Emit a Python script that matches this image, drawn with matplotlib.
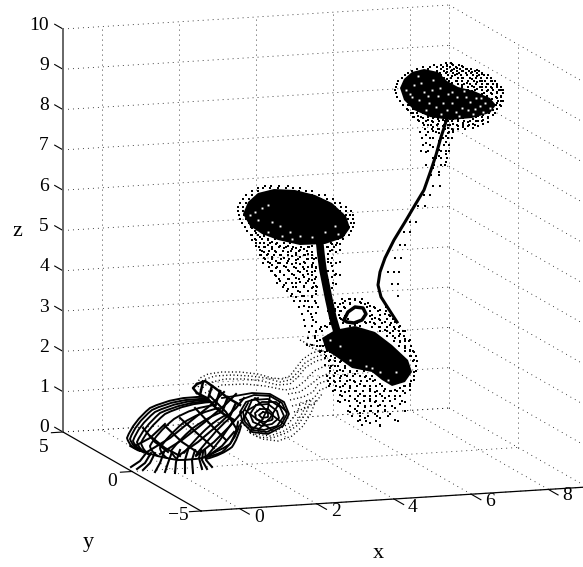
import matplotlib
matplotlib.use("Agg")
import matplotlib.pyplot as plt
from matplotlib.path import Path
from matplotlib.patches import PathPatch

plt.rcParams["font.family"] = ["Liberation Serif", "DejaVu Serif"]
plt.rcParams["font.size"] = 14

x_ticks = [0, 2, 4, 6, 8]
y_ticks = [-5, 0, 5]
z_ticks = [0, 1, 2, 3, 4, 5, 6, 7, 8, 9, 10]
x_lim = [-1, 9]
y_lim = [-5, 5]
z_lim = [0, 10]

# the view, picture position of (x=-1, y=-5, z=0) and the step per data unit
corner = (201.0, 511.0)
x_step = (38.6, -2.4)
y_step = (-13.8, -7.9)
z_step = (0.0, -40.3)

# picture positions for the trajectories
cap1_core = [(400, 88), (404, 79), (412, 72), (424, 69), (438, 72), (447, 81), (458, 87), (474, 91),
             (490, 98), (496, 105), (490, 113), (472, 118), (450, 120), (430, 117), (414, 110), (404, 100)]
cap1_specks = [(414, 85), (424, 92), (433, 80), (410, 94), (438, 96), (452, 103), (470, 102), (462, 108),
               (480, 106), (429, 103), (418, 76), (447, 110), (406, 90), (421, 83), (440, 88), (448, 94),
               (457, 97), (466, 97), (475, 109), (485, 103), (436, 107), (428, 96), (443, 103), (456, 112),
               (468, 110), (419, 100), (412, 97), (476, 98), (490, 108), (432, 90), (426, 110), (483, 112),
               (459, 116), (441, 114), (473, 114), (452, 92), (464, 91), (481, 98)]
cap1_rows = [
    (63, [446, 451]), (65, [434, 441, 447, 453, 459]), (67, [423, 430, 437, 443, 450, 456, 463]),
    (69, [417, 428, 441, 447, 454, 460, 466, 471]), (71, [412, 437, 444, 451, 457, 463, 469, 475, 479]),
    (73, [408, 440, 446, 453, 459, 466, 471, 477, 482]), (75, [405, 441, 448, 455, 461, 467, 473, 479, 484, 488]),
    (78, [402, 444, 451, 458, 463, 470, 476, 481, 487, 491]), (81, [398, 449, 456, 462, 468, 474, 480, 485, 491, 495]),
    (84, [397, 451, 458, 464, 470, 476, 482, 488, 493, 497]), (87, [396, 462, 468, 474, 480, 486, 491, 497, 501]),
    (90, [395, 468, 475, 482, 488, 493, 499, 503]), (93, [396, 484, 491, 497, 503]), (97, [397, 496, 501]),
    (101, [400, 498, 503]), (105, [403, 409, 496, 500]), (109, [407, 413, 418, 491, 497]),
    (113, [411, 417, 424, 483, 489, 495]), (117, [414, 421, 428, 434, 441, 470, 476, 482, 488]),
    (121, [419, 426, 432, 439, 445, 452, 458, 464, 470, 476, 482]),
    (125, [424, 431, 437, 444, 450, 457, 463, 469, 475]), (129, [425, 432, 439, 445, 452, 458, 465]),
    (132, [420, 428, 436, 443, 449, 453]), (138, [422, 430, 443, 448, 452]), (145, [423, 430, 444, 449]),
    (151, [421, 428, 441, 446, 449]), (158, [436, 441, 447]), (165, [426, 434, 441, 445]),
    (175, [431, 439]), (186, [433, 440]), (195, [424, 430]), (206, [418, 425]), (222, [410, 416]),
    (232, [404, 410]), (245, [400, 405]), (258, [395, 401]), (272, [388, 394, 399]), (284, [392, 398]), (296, [398])]
cap1_cols = [
    (447, [66, 72, 79, 87]), (452, [64, 70, 76, 83, 90]), (457, [68, 74, 81, 88]), (462, [66, 71, 78, 85, 92]),
    (467, [69, 75, 83, 90]), (472, [72, 79, 86, 91]), (477, [70, 76, 82, 89, 95]), (482, [74, 81, 87, 94]),
    (487, [78, 84, 91, 96]), (492, [81, 88, 94, 99]), (497, [85, 92, 98, 103]), (501, [90, 96, 101, 106]),
    (408, [105, 110]), (413, [108, 113, 117]), (418, [111, 116, 120]), (423, [113, 118, 123]),
    (428, [115, 120, 125]), (433, [118, 122, 127, 131]), (438, [119, 124, 129]), (443, [120, 126, 130]),
    (448, [121, 125, 128, 133]), (453, [119, 124, 130]), (458, [120, 126, 129]), (463, [118, 123, 127]),
    (468, [117, 122, 126]), (473, [119, 124, 128]), (478, [116, 121, 126]), (483, [115, 120, 124]),
    (488, [112, 118, 122]), (493, [110, 115]), (426, [135, 143, 152]), (433, [138, 147, 158, 168]),
    (446, [136, 142, 154, 162]), (439, [133, 141, 150, 156, 172])]
stem1 = [(447, 118), (444, 128), (441, 137), (436, 155), (431, 170), (424, 190), (415, 205),
         (405, 222), (394, 240), (385, 258), (380, 272), (378, 285), (381, 297), (388, 308), (397, 322)]

cap2_core = [(243, 214), (248, 202), (258, 193), (274, 189), (295, 190), (315, 195), (332, 203), (346, 216),
             (350, 228), (343, 238), (325, 244), (300, 245), (278, 240), (262, 234), (250, 226)]
cap2_specks = [(268, 205), (290, 232), (300, 236), (280, 226), (325, 232), (258, 220), (262, 208), (255, 212),
               (272, 222), (335, 226), (292, 239), (312, 237), (250, 215), (268, 232), (282, 236), (338, 234)]
cap2_rows = [
    (186, [265, 271, 279, 288]), (188, [258, 263, 270, 278, 286, 293, 300]), (191, [252, 258, 299, 306, 312]),
    (195, [246, 252, 312, 319, 325]), (199, [243, 249, 321, 327, 333]), (203, [240, 246, 329, 335, 340]),
    (207, [238, 243, 335, 341, 346]), (211, [238, 243, 340, 346, 351]), (215, [239, 244, 346, 350, 353]),
    (219, [240, 246, 348, 353]), (223, [242, 249, 254, 351, 354]), (227, [245, 251, 258, 349, 353]),
    (231, [247, 255, 261, 267, 346, 351]), (235, [251, 258, 264, 271, 277, 344, 349]),
    (239, [255, 262, 268, 275, 281, 287, 293, 338, 343]), (243, [256, 264, 270, 277, 284, 290, 297, 305, 311, 331, 337]),
    (247, [259, 265, 272, 279, 286, 293, 301, 309, 327, 334]), (251, [262, 269, 275, 283, 291, 299, 307, 330]),
    (255, [261, 267, 274, 281, 288, 296, 305, 312]), (259, [265, 272, 281, 289, 298, 307, 314, 328]),
    (263, [263, 270, 278, 287, 296, 305, 313, 331]), (267, [269, 277, 286, 294, 303, 312, 316]),
    (271, [271, 280, 289, 298, 307, 315, 333]), (275, [275, 284, 294, 303, 312, 335]),
    (279, [279, 289, 299, 309, 315]), (283, [277, 286, 296, 306, 314, 333]),
    (287, [283, 293, 304, 313, 317]), (291, [287, 298, 308, 316]), (296, [291, 302, 312]),
    (301, [294, 305, 315]), (307, [299, 309, 318]), (314, [302, 311]), (320, [304, 313]),
    (326, [305, 312]), (332, [309, 316]), (338, [308, 315]), (345, [307, 312])]
cap2_cols = [
    (252, [228, 235, 240]), (256, [233, 240, 246]), (260, [237, 243, 250, 255]), (264, [236, 247, 252, 258]),
    (268, [240, 245, 254, 262]), (272, [242, 249, 257, 265, 271]), (276, [244, 252, 261, 268, 276]),
    (280, [246, 255, 263, 272, 281]), (284, [248, 258, 266, 275, 285]), (288, [246, 252, 261, 270, 279, 289]),
    (292, [249, 256, 264, 274, 283, 294]), (296, [248, 253, 260, 268, 278, 287, 297]),
    (300, [250, 257, 264, 272, 282, 292, 301]), (304, [249, 255, 262, 269, 277, 286, 296, 306]),
    (308, [247, 254, 259, 267, 274, 281, 291, 301, 311]), (312, [246, 252, 258, 265, 272, 280, 288, 297, 307, 317]),
    (316, [258, 268, 277, 286, 294, 303, 313, 322]), (328, [247, 254, 262, 271, 280]),
    (332, [244, 250, 258, 266, 277, 288]), (336, [245, 252, 263, 274, 284]), (340, [244, 250, 262, 275])]
stem2 = [(319, 236), (321, 255), (323, 270), (326, 285), (329, 300), (333, 318), (338, 335)]

blob_core = [(322, 338), (335, 330), (355, 326), (375, 332), (392, 345), (408, 360), (412, 372), (405, 382),
             (392, 386), (382, 380), (372, 372), (352, 368), (338, 358), (326, 350)]
blob_specks = [(366, 366), (372, 368), (380, 372), (350, 360), (396, 372), (388, 380), (340, 346), (330, 340)]
blob_rows = [
    (299, [342, 349, 355, 362]), (303, [335, 343, 350, 361, 368]), (307, [331, 338, 344, 367, 374, 386]),
    (311, [328, 335, 341, 370, 378, 386]), (315, [334, 339, 346, 372, 380, 389]),
    (319, [335, 341, 348, 372, 379, 387, 393]), (323, [330, 337, 343, 350, 357, 366, 374, 382, 391]),
    (327, [321, 327, 334, 372, 379, 387, 394, 399]), (331, [316, 322, 380, 387, 393, 399, 403]),
    (336, [315, 387, 393, 399, 404]), (341, [317, 394, 400, 405, 409]), (346, [317, 323, 399, 405, 411]),
    (351, [321, 327, 405, 410, 413]), (356, [326, 331, 411, 416]), (361, [329, 335, 341, 413, 417]),
    (366, [331, 338, 345, 416]), (371, [330, 337, 343, 350, 357, 364, 416]),
    (376, [327, 334, 341, 347, 353, 360, 366, 372, 414]), (381, [328, 334, 340, 347, 354, 361, 367, 373, 411]),
    (386, [329, 336, 343, 350, 357, 364, 370, 376, 382, 404, 410]),
    (391, [333, 341, 349, 356, 363, 370, 377, 384, 391, 397, 403]),
    (396, [342, 350, 358, 364, 370, 376, 382, 389, 395, 400]),
    (401, [338, 349, 357, 364, 370, 376, 383, 390, 402]), (406, [350, 358, 365, 371, 378, 385, 392]),
    (411, [348, 357, 364, 371, 378, 385, 405]), (416, [352, 360, 368, 377, 388]), (421, [358, 366, 376, 398]),
    (425, [362, 380])]
blob_cols = [
    (320, [329, 340, 346, 352]), (325, [326, 345, 352, 358, 365]), (330, [318, 324, 352, 360, 368, 378, 384]),
    (335, [309, 316, 322, 358, 366, 373, 382, 390]), (340, [304, 311, 318, 362, 370, 378, 387, 395, 402]),
    (345, [301, 308, 316, 321, 368, 375, 384, 392, 400]), (350, [299, 304, 326, 372, 380, 388, 396, 406, 412]),
    (355, [300, 325, 374, 382, 391, 399, 409]), (360, [302, 326, 376, 384, 394, 403, 413, 420]),
    (365, [304, 322, 377, 386, 396, 407, 418]), (370, [306, 316, 322, 379, 389, 399, 411, 423]),
    (375, [308, 318, 324, 380, 392, 402, 414]), (380, [310, 320, 327, 384, 394, 405, 418, 426]),
    (385, [314, 322, 330, 389, 398, 410]), (390, [316, 325, 333, 391, 401, 414]),
    (395, [322, 329, 338, 390, 399, 408, 420]), (400, [326, 334, 342, 388, 396, 404]),
    (405, [331, 339, 348, 386, 393, 402]), (410, [340, 350, 356, 384, 390]), (414, [352, 360, 372, 380])]
knot = [(344, 320), (348, 312), (355, 307), (363, 308), (366, 314), (362, 320), (354, 323), (347, 322), (344, 320)]

dotted_arcs = [
    [(197, 384), (200, 378), (208, 374), (222, 372), (240, 372), (258, 374), (272, 378), (282, 379),
     (290, 376), (296, 368), (303, 359), (312, 353), (322, 350)],
    [(198, 387), (203, 380), (215, 376), (232, 375), (250, 376), (266, 378), (280, 382), (290, 380),
     (298, 372), (305, 363), (315, 357), (326, 354)],
    [(200, 390), (208, 383), (225, 379), (245, 379), (262, 381), (278, 385), (290, 384), (298, 377),
     (306, 367), (316, 361), (328, 358)],
    [(205, 393), (222, 385), (245, 384), (265, 386), (285, 390), (296, 388), (306, 380), (314, 371),
     (325, 366), (335, 365)],
    [(288, 394), (300, 392), (310, 385), (320, 377), (332, 372)],
    [(290, 400), (303, 397), (313, 392), (318, 384), (328, 380)],
    [(292, 406), (304, 403), (314, 398), (320, 390), (330, 386)],
    [(294, 412), (306, 408), (316, 402), (322, 394)],
    [(250, 433), (262, 439), (278, 441), (292, 436), (303, 426), (311, 413), (316, 400)],
    [(247, 430), (258, 437), (272, 438), (286, 433), (298, 425), (306, 413), (311, 400)],
    [(244, 425), (255, 434), (270, 436), (284, 431), (296, 423), (303, 412), (307, 400)],
    [(240, 420), (250, 429), (262, 433), (276, 431), (288, 424), (297, 413), (301, 402)],
    [(306, 344), (314, 349), (322, 351), (330, 351)],
    [(300, 340), (308, 344), (318, 346), (326, 345)]]

hood_ribs = [
    [(205, 397), (175, 396), (150, 408), (133, 422), (127, 438), (130, 448), (140, 451)],
    [(207, 399), (177, 398), (152, 410), (135, 424), (130, 439), (133, 448), (143, 452)],
    [(208, 400), (180, 400), (155, 412), (138, 426), (133, 441), (136, 449), (147, 453)],
    [(210, 401), (184, 402), (160, 413), (143, 428), (137, 442), (139, 450), (148, 454)],
    [(212, 402), (187, 403), (165, 414), (147, 429), (141, 443), (143, 451), (150, 455)],
    [(216, 405), (193, 407), (174, 419), (156, 434), (150, 446), (151, 452), (158, 456)],
    [(219, 408), (200, 412), (183, 423), (167, 437), (160, 448), (161, 454), (167, 458)],
    [(222, 412), (208, 417), (193, 428), (178, 441), (171, 451), (172, 455), (177, 459)],
    [(226, 415), (214, 421), (203, 432), (190, 445), (184, 453)],
    [(230, 418), (220, 426), (212, 436), (201, 448), (196, 455)],
    [(234, 420), (227, 430), (220, 440), (212, 450), (207, 456)],
    [(130, 446), (150, 456), (178, 460), (205, 460), (222, 452), (235, 441), (239, 426)],
    [(206, 459), (222, 455), (232, 447), (238, 438), (241, 426)],
    [(204, 457), (218, 452), (230, 444), (236, 434), (238, 422)]]
tails = [
    [(131, 467), (140, 461), (147, 452)], [(137, 469), (145, 463), (151, 453)], [(143, 470), (150, 463), (155, 453)],
    [(155, 472), (160, 463), (164, 452)], [(165, 472), (168, 463), (172, 452)], [(175, 473), (176, 462), (180, 450)],
    [(185, 473), (185, 460), (188, 450)], [(193, 473), (192, 460), (195, 450)], [(202, 469), (199, 458), (201, 450)],
    [(212, 467), (206, 460), (205, 450)], [(207, 469), (202, 460), (203, 452)]]
lattice = [
    [(135, 446), (150, 438), (165, 424)], [(147, 452), (170, 438), (192, 420), (212, 404), (224, 392)],
    [(160, 454), (182, 440), (205, 422), (226, 404), (236, 394)], [(178, 456), (198, 442), (218, 425), (236, 408), (244, 398)],
    [(196, 456), (214, 442), (230, 426), (242, 412)], [(208, 456), (222, 446), (234, 432)],
    [(143, 428), (155, 442), (168, 452)], [(150, 436), (165, 448), (180, 456)], [(165, 426), (182, 442), (200, 454)],
    [(180, 418), (198, 434), (214, 448)], [(195, 408), (212, 426), (226, 440)],
    [(210, 396), (226, 412), (236, 428)]]
neck = [
    [(197, 384), (205, 381), (215, 388), (228, 398), (240, 405)], [(197, 393), (207, 398), (216, 408), (225, 415), (234, 420)],
    [(203, 382), (200, 395)], [(212, 386), (208, 399)], [(220, 391), (215, 406)], [(228, 397), (222, 412)],
    [(236, 403), (229, 418)], [(197, 384), (193, 388), (197, 393)]]
coil_loops = [
    [(222, 398), (235, 396), (252, 393), (270, 394), (284, 402), (289, 414), (283, 426), (268, 434),
     (252, 432), (243, 423), (240, 412), (246, 402), (258, 398)],
    [(240, 400), (254, 395), (270, 396), (282, 403), (287, 414), (281, 425), (267, 432), (253, 430),
     (245, 422), (243, 412), (248, 403)],
    [(252, 400), (268, 399), (280, 407), (284, 416), (277, 426), (264, 430), (251, 427), (245, 416), (252, 400)],
    [(256, 405), (268, 404), (277, 411), (279, 418), (272, 424), (262, 426), (253, 422), (250, 414), (256, 405)],
    [(260, 409), (268, 409), (273, 414), (272, 420), (264, 422), (256, 419), (255, 413), (260, 409)],
    [(263, 412), (268, 413), (268, 417), (262, 418), (259, 415), (263, 412)],
    [(240, 425), (248, 410), (262, 402), (276, 402), (287, 412)], [(250, 432), (262, 420), (268, 408), (270, 396)],
    [(245, 410), (258, 420), (272, 430)], [(255, 398), (268, 412), (284, 424)], [(280, 402), (270, 418), (258, 430)]]


def project(x, y, z):
    u = corner[0] + (x - x_lim[0]) * x_step[0] + (y - y_lim[0]) * y_step[0] + z * z_step[0]
    v = corner[1] + (x - x_lim[0]) * x_step[1] + (y - y_lim[0]) * y_step[1] + z * z_step[1]
    return u, v


def seg(ax, a, b, **kw):
    pa, pb = project(*a), project(*b)
    ax.plot([pa[0], pb[0]], [pa[1], pb[1]], **kw)


def curve(ax, pts, **kw):
    ax.plot([p[0] for p in pts], [p[1] for p in pts], **kw)


def smooth(ax, pts, **kw):
    # every other point acts as the control point of a quadratic piece
    n = len(pts) if len(pts) % 2 == 1 else len(pts) - 1
    codes = [Path.MOVETO] + [Path.CURVE3] * (n - 1)
    ax.add_patch(PathPatch(Path(pts[:n], codes), fc="none", ec="k", capstyle="round", **kw))


def rows_xy(rows, cols):
    xs, ys = [], []
    for y, vals in rows:
        for x in vals:
            xs.append(x)
            ys.append(y)
    for x, vals in cols:
        for y in vals:
            xs.append(x)
            ys.append(y)
    return xs, ys


fig = plt.figure(figsize=(5.83, 5.67), dpi=100)
ax = fig.add_axes([0, 0, 1, 1])
ax.set_xlim(0, 583)
ax.set_ylim(567, 0)
ax.axis("off")

grid = dict(color="k", lw=0.6, ls=(0, (1, 5)))
x0, x1 = x_lim
y0, y1 = y_lim
z0, z1 = z_lim
for z in z_ticks:
    seg(ax, (x0, y1, z), (x1, y1, z), **grid)
    seg(ax, (x1, y1, z), (x1, y0, z), **grid)
for x in x_ticks:
    seg(ax, (x, y0, z0), (x, y1, z0), **grid)
    seg(ax, (x, y1, z0), (x, y1, z1), **grid)
for y in y_ticks:
    seg(ax, (x0, y, z0), (x1, y, z0), **grid)
    seg(ax, (x1, y, z0), (x1, y, z1), **grid)

# axes box
seg(ax, (x0, y1, z0), (x0, y1, z1), color="#666666", lw=1.4, zorder=3)
seg(ax, (x0, y0, z0), (x0, y1, z0), color="k", lw=0.9, zorder=3)
seg(ax, (x0, y0, z0), (x1, y0, z0), color="k", lw=0.9, zorder=3)
for x in x_ticks:
    seg(ax, (x, y0, z0), (x, y0 - 0.7, z0), color="k", lw=0.8)
for y in y_ticks:
    seg(ax, (x0, y, z0), (x0 - 0.3, y, z0), color="k", lw=0.8)
for z in z_ticks:
    seg(ax, (x0, y1, z), (x0, y1 + 0.6, z), color="k", lw=0.8)

# tick labels and axis names
for x, (u, v) in zip(x_ticks, [(259, 518), (336, 512), (413, 507), (490, 501), (567, 496)]):
    ax.text(u, v, str(x), ha="center", va="center")
for y, (u, v) in zip(y_ticks, [(178, 516), (112, 481), (44, 447)]):
    ax.text(u, v, str(y).replace("-", "\u2212"), ha="center", va="center")
for z in z_ticks:
    u, v = project(x0, y1, z)
    ax.text(49, v - 4, str(z), ha="right", va="center")
ax.text(378, 553, "x", ha="center", va="center", fontsize=16)
ax.text(88, 542, "y", ha="center", va="center", fontsize=16)
ax.text(17, 231, "z", ha="center", va="center", fontsize=16)

# bottom sheet
for arc in dotted_arcs:
    curve(ax, arc, color="k", lw=1.0, ls=(0, (0.8, 1.8)), zorder=4)
for rib in hood_ribs:
    smooth(ax, rib, lw=1.4, zorder=5)
for rib in tails + lattice:
    curve(ax, rib, color="k", lw=1.5, zorder=5)
for rib in neck:
    curve(ax, rib, color="k", lw=1.8, zorder=5)
for loop in coil_loops:
    curve(ax, loop, color="k", lw=1.3, zorder=5)

# clouds
for core, specks, rows, cols in [(cap1_core, cap1_specks, cap1_rows, cap1_cols),
                                 (cap2_core, cap2_specks, cap2_rows, cap2_cols),
                                 (blob_core, blob_specks, blob_rows, blob_cols)]:
    ax.fill([p[0] for p in core], [p[1] for p in core], color="k", lw=0, zorder=5)
    xs, ys = rows_xy(rows, cols)
    ax.plot(xs, ys, "s", color="k", ms=1.6, mew=0, zorder=5)
    curve(ax, specks, color="w", marker="s", ms=1.4, mew=0, ls="none", zorder=6)
curve(ax, stem1, color="k", lw=2.2, zorder=5)
curve(ax, stem2, color="k", lw=5.5, zorder=5)
curve(ax, knot, color="k", lw=2.5, zorder=5)

fig.savefig("out.png", dpi=100)
